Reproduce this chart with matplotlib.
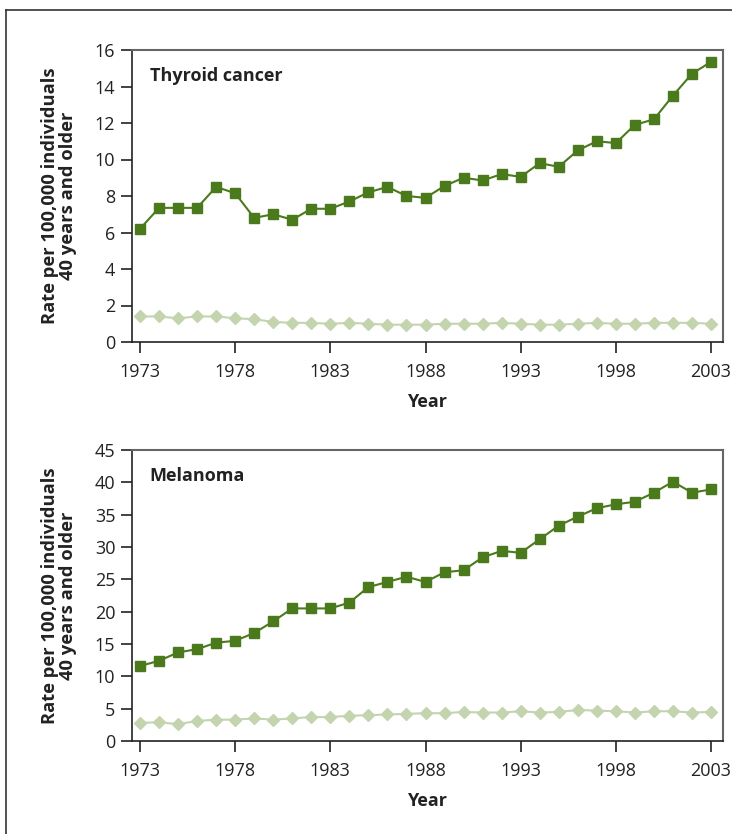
import matplotlib.pyplot as plt
from matplotlib.lines import Line2D

plt.rcParams['font.family'] = ['Open Sans', 'DejaVu Sans']

# Datos
years = list(range(1973, 2004))
thyroid_high = [6.2, 7.35, 7.35, 7.35, 8.5, 8.15, 6.8, 7.0, 6.7, 7.3, 7.3, 7.7, 8.2, 8.5, 8.0, 7.9,
                8.55, 9.0, 8.85, 9.2, 9.05, 9.8, 9.6, 10.5, 11.0, 10.9, 11.9, 12.2, 13.5, 14.7, 15.35]
thyroid_low = [1.4, 1.4, 1.3, 1.4, 1.4, 1.3, 1.25, 1.1, 1.05, 1.05, 1.0, 1.05, 1.0, 0.95, 0.95, 0.95,
               1.0, 1.0, 1.0, 1.05, 1.0, 0.95, 0.95, 1.0, 1.05, 1.0, 1.0, 1.05, 1.05, 1.05, 1.0]
melanoma_high = [11.6, 12.4, 13.7, 14.2, 15.2, 15.5, 16.7, 18.5, 20.5, 20.5, 20.5, 21.4, 23.8, 24.6,
                 25.4, 24.6, 26.1, 26.4, 28.4, 29.4, 29.1, 31.2, 33.3, 34.7, 36.0, 36.6, 37.0, 38.4,
                 40.1, 38.4, 38.9]
melanoma_low = [2.8, 2.9, 2.6, 3.1, 3.3, 3.3, 3.5, 3.3, 3.5, 3.7, 3.7, 3.9, 4.0, 4.1, 4.2, 4.3, 4.3,
                4.5, 4.4, 4.4, 4.6, 4.4, 4.5, 4.8, 4.7, 4.6, 4.4, 4.6, 4.6, 4.4, 4.5]
xticks = [1973, 1978, 1983, 1988, 1993, 1998, 2003]

dark = '#4a7a1c'
light = '#c3d4ae'

fig = plt.figure(figsize=(7.32, 8.34), dpi=100)

# marco exterior
fig.add_artist(Line2D([6/732, 6/732], [0, 1 - 10/834], color='#333333', lw=1.2))
fig.add_artist(Line2D([6/732, 1], [1 - 10/834, 1 - 10/834], color='#333333', lw=1.2))

paneles = [
    ([132/732, 1 - 342/834, 591/732, 292/834], thyroid_high, thyroid_low, 'Thyroid cancer',
     16, range(0, 17, 2)),
    ([132/732, 1 - 741/834, 591/732, 291/834], melanoma_high, melanoma_low, 'Melanoma',
     45, range(0, 46, 5)),
]

for rect, alto, bajo, titulo, ymax, yticks in paneles:
    ax = fig.add_axes(rect)
    ax.plot(years, bajo, color=light, marker='D', markersize=6, linewidth=1.5, clip_on=False)
    ax.plot(years, alto, color=dark, marker='s', markersize=7, linewidth=1.5, clip_on=False)
    ax.set_xlim(1972.58, 2003.63)
    ax.set_ylim(0, ymax)
    ax.set_xticks(xticks)
    ax.set_yticks(list(yticks))
    ax.tick_params(direction='out', length=8, width=1.2, labelsize=13, colors='#222222', pad=4)
    ax.tick_params(axis='x', pad=7)
    for s in ['left', 'bottom']:
        ax.spines[s].set_color('#222222')
        ax.spines[s].set_linewidth(1.2)
    for s in ['top', 'right']:
        ax.spines[s].set_color('#666666')
        ax.spines[s].set_linewidth(1.5)
    ax.text(0.03, 0.91, titulo, transform=ax.transAxes, fontsize=13, fontweight='bold',
            color='#222222', va='center')
    ax.set_xlabel('Year', fontsize=13, fontweight='bold', color='#222222', labelpad=9)
    ax.set_ylabel('Rate per 100,000 individuals\n40 years and older', fontsize=13.2,
                  fontweight='bold', color='#222222', labelpad=13, linespacing=1.0)

fig.savefig('out.png', dpi=100)
